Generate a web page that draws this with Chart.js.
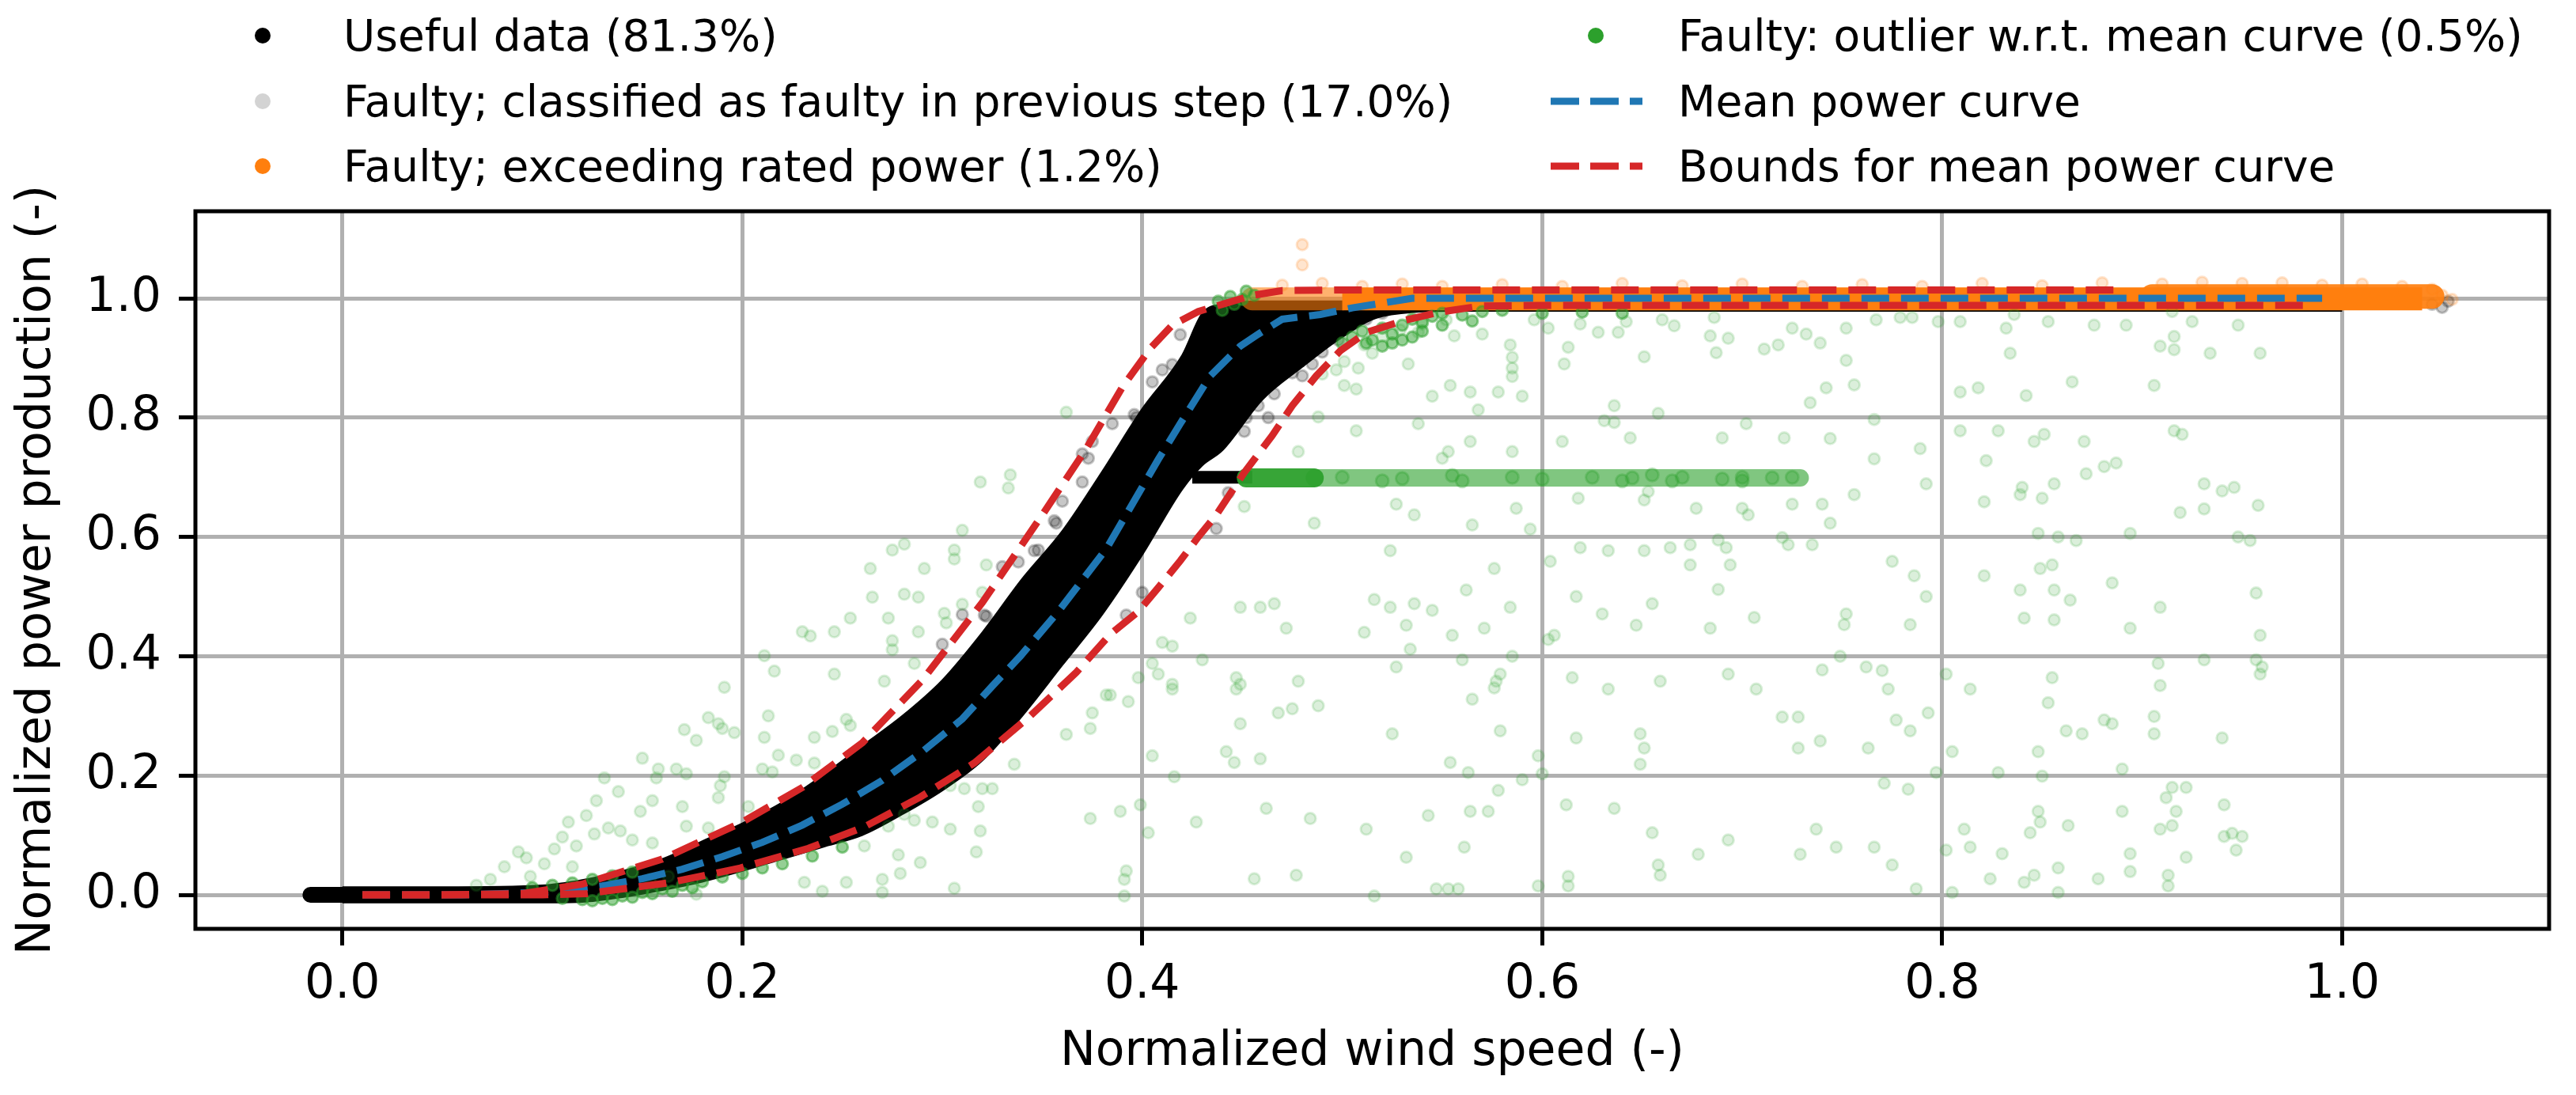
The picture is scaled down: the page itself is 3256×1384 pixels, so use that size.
<!DOCTYPE html>
<html>
<head>
<meta charset="utf-8">
<title>Power curve filtering</title>
<script src="https://cdn.jsdelivr.net/npm/chart.js@4.4.1/dist/chart.umd.min.js"></script>
<style>
  body { margin: 0; background: #fff; }
  #wrap { position: relative; width: 3256px; height: 1384px; font-family: 'DejaVu Sans', sans-serif; }
  #chart { position: absolute; left: 0; top: 0; }
  .lg-text { position: absolute; height: 82px; line-height: 82px; font-size: 55px; white-space: nowrap; color: #000; }
  .lg-dot { position: absolute; width: 20px; height: 20px; border-radius: 50%; }
  .lg-line { position: absolute; }
</style>
</head>
<body>
<div id="wrap">
  <canvas id="chart" width="3256" height="1384"></canvas>
  <div id="legend"></div>
</div>
<script>
// ---------------------
// Data
// ---------------------
const xTicks = [0.0, 0.2, 0.4, 0.6, 0.8, 1.0];
const yTicks = [0.0, 0.2, 0.4, 0.6, 0.8, 1.0];
const xTickLabels = ['0.0', '0.2', '0.4', '0.6', '0.8', '1.0'];
const yTickLabels = ['0.0', '0.2', '0.4', '0.6', '0.8', '1.0'];
const xLimits = [-0.0735, 1.1035];
const yLimits = [-0.057, 1.146];

// dense cloud of useful data, outlined by its upper and lower edge
const bandX      = [0.0, 0.05, 0.10, 0.12, 0.14, 0.16, 0.18, 0.20, 0.22, 0.24, 0.26, 0.28, 0.30, 0.32, 0.34, 0.36, 0.38, 0.40, 0.42, 0.43, 0.44, 0.46, 0.48, 0.50, 0.52, 0.56, 0.60, 0.80, 1.0];
const bandTop    = [0.013, 0.013, 0.016, 0.025, 0.04, 0.06, 0.09, 0.12, 0.155, 0.20, 0.25, 0.30, 0.36, 0.44, 0.53, 0.61, 0.71, 0.815, 0.905, 0.975, 0.99, 0.995, 0.995, 0.995, 0.995, 0.995, 0.995, 0.995, 0.995];
const bandBottom = [-0.013, -0.013, -0.013, -0.012, -0.004, 0.008, 0.022, 0.04, 0.06, 0.08, 0.10, 0.135, 0.175, 0.225, 0.30, 0.385, 0.47, 0.57, 0.68, 0.72, 0.745, 0.83, 0.885, 0.935, 0.97, 0.979, 0.979, 0.979, 0.979];
// idle turbine: zero power at the lowest wind speeds
const idleX = [-0.016, 0.10];
const idleY = [0.0, 0.0];
const usefulSpurX = [0.425, 0.455];
const usefulSpurY = [0.700, 0.700];
const usefulEdge = [
  [0.370,0.739],[0.370,0.692],[0.356,0.627],[0.346,0.577],[0.396,0.805],[0.415,0.889],[0.419,0.939],
  [0.463,0.800],[0.451,0.777],[0.443,0.674],[0.437,0.614],[0.400,0.507],[0.392,0.469],[0.321,0.469],
  [0.373,0.732],[0.357,0.623],[0.348,0.578],[0.338,0.558],[0.322,0.467],[0.397,0.800],[0.470,0.880],
  [0.452,0.800],[0.458,0.820],[0.466,0.840],[0.475,0.875],[0.480,0.870],[0.485,0.890],[0.490,0.910],
  [0.498,0.930],[0.505,0.955],[0.512,0.965],[0.520,0.975],[0.360,0.660],[0.375,0.760],[0.385,0.790],
  [0.405,0.860],[0.410,0.880],[0.330,0.550],[0.310,0.470],[0.300,0.420],
  [1.045,0.990],[1.050,0.985],[1.053,0.995]
];

// classified as faulty in the previous step (hidden below the other layers)
const prevFaulty = [[0.0,0.0],[0.05,0.0],[0.2,0.08],[0.3,0.27],[0.4,0.7],[0.6,1.0],[0.8,1.0],[0.95,1.0]];

// exceeding rated power
const ratedXa = [0.455, 0.50];
const ratedYa = [0.999, 0.999];
const ratedXb = [0.50, 1.040];
const ratedYb = [0.999, 0.999];
const ratedX2 = [0.905, 1.045];
const ratedY2 = [1.003, 1.003];
const ratedPts = [
  [0.480,1.090],[0.480,1.056],[0.470,1.022],[0.490,1.025],[0.510,1.020],[0.530,1.024],[0.550,1.020],
  [0.580,1.023],[0.610,1.020],[0.640,1.025],[0.670,1.021],[0.700,1.024],[0.730,1.020],[0.760,1.023],
  [0.790,1.020],[0.820,1.025],[0.850,1.021],[0.880,1.026],[0.910,1.024],[0.930,1.027],[0.950,1.025],
  [0.970,1.026],[0.990,1.022],[1.010,1.024],[1.030,1.020],[1.045,1.015],[1.050,1.005],[1.055,0.998]
];

// outliers w.r.t. the mean curve
const outlierPts = [
  // low wind speeds
  [0.319,0.692],[0.334,0.704],[0.333,0.682],[0.310,0.611],[0.306,0.578],[0.306,0.563],[0.322,0.553],
  [0.275,0.578],[0.281,0.588],[0.264,0.547],[0.291,0.547],[0.265,0.499],[0.281,0.504],[0.288,0.499],
  [0.310,0.487],[0.301,0.472],[0.302,0.456],[0.320,0.507],[0.273,0.464],[0.254,0.464],[0.246,0.441],
  [0.230,0.441],[0.234,0.434],[0.288,0.441],[0.275,0.426],[0.275,0.411],[0.286,0.388],[0.211,0.401],
  [0.216,0.375],[0.246,0.370],[0.271,0.358],[0.191,0.348],[0.213,0.300],[0.183,0.297],[0.188,0.287],
  [0.190,0.279],[0.196,0.272],[0.171,0.277],[0.177,0.259],[0.211,0.264],[0.236,0.264],[0.252,0.294],
  [0.245,0.274],[0.254,0.284],[0.375,0.305],[0.374,0.279],[0.362,0.269],[0.382,0.335],[0.336,0.219],
  [0.374,0.128],[0.150,0.229],[0.158,0.211],[0.167,0.211],[0.172,0.203],[0.157,0.196],[0.191,0.198],
  [0.189,0.183],[0.210,0.211],[0.215,0.206],[0.218,0.234],[0.227,0.226],[0.236,0.221],[0.131,0.196],
  [0.138,0.173],[0.127,0.158],[0.155,0.158],[0.149,0.140],[0.170,0.148],[0.188,0.163],[0.203,0.148],
  [0.172,0.115],[0.183,0.112],[0.304,0.183],[0.311,0.178],[0.320,0.178],[0.325,0.178],[0.318,0.148],
  [0.281,0.135],[0.273,0.115],[0.286,0.125],[0.295,0.122],[0.304,0.110],[0.319,0.107],[0.317,0.072],
  [0.261,0.082],[0.278,0.067],[0.289,0.054],[0.279,0.036],[0.270,0.026],[0.231,0.021],[0.240,0.006],
  [0.252,0.021],[0.306,0.011],[0.270,0.004],[0.113,0.122],[0.122,0.133],[0.126,0.102],[0.110,0.097],
  [0.106,0.077],[0.117,0.082],[0.133,0.112],[0.139,0.107],[0.145,0.092],[0.155,0.087],[0.088,0.072],
  [0.081,0.047],[0.092,0.062],[0.101,0.052],[0.074,0.026],[0.067,0.016],[0.094,0.031],[0.115,0.047],
  [0.154,0.026],[0.163,0.031],[0.177,0.001],[0.362,0.809],
  // middle wind speeds
  [0.584,0.922],[0.585,0.901],[0.585,0.883],[0.585,0.869],[0.533,0.890],[0.611,0.890],[0.613,0.918],
  [0.651,0.902],[0.687,0.909],[0.711,0.915],[0.718,0.922],[0.725,0.950],[0.732,0.940],[0.693,0.933],
  [0.684,0.937],[0.739,0.925],[0.545,0.836],[0.554,0.854],[0.564,0.843],[0.578,0.843],[0.590,0.836],
  [0.568,0.813],[0.501,0.854],[0.507,0.848],[0.508,0.883],[0.734,0.825],[0.636,0.820],[0.631,0.795],
  [0.636,0.792],[0.658,0.807],[0.702,0.790],[0.488,0.801],[0.507,0.778],[0.538,0.790],[0.644,0.766],
  [0.690,0.766],[0.721,0.766],[0.610,0.760],[0.564,0.760],[0.585,0.743],[0.478,0.743],[0.553,0.743],
  [0.550,0.732],[0.603,0.950],[0.619,0.957],[0.628,0.943],[0.638,0.943],[0.642,0.961],[0.660,0.964],
  [0.666,0.954],[0.686,0.968],[0.596,0.964],[0.570,0.940],[0.556,0.937],[0.538,0.943],[0.511,0.922],
  [0.520,0.936],[0.529,0.947],[0.540,0.957],[0.552,0.964],[0.515,0.908],[0.501,0.894],[0.497,0.880],
  [0.490,0.873],[0.451,0.651],[0.486,0.623],[0.527,0.655],[0.536,0.637],[0.565,0.620],[0.587,0.648],
  [0.594,0.613],[0.618,0.665],[0.651,0.662],[0.653,0.676],[0.677,0.648],[0.700,0.648],[0.703,0.637],
  [0.725,0.655],[0.740,0.655],[0.524,0.577],[0.576,0.547],[0.604,0.559],[0.619,0.582],[0.633,0.577],
  [0.651,0.577],[0.664,0.582],[0.674,0.587],[0.674,0.553],[0.688,0.595],[0.692,0.582],[0.694,0.553],
  [0.720,0.599],[0.723,0.587],[0.735,0.587],[0.562,0.511],[0.617,0.500],[0.688,0.512],[0.655,0.488],
  [0.706,0.465],[0.630,0.471],[0.647,0.452],[0.684,0.447],[0.584,0.482],[0.545,0.477],[0.536,0.488],
  [0.524,0.482],[0.516,0.495],[0.532,0.452],[0.511,0.440],[0.555,0.435],[0.571,0.447],[0.472,0.447],
  [0.449,0.482],[0.459,0.482],[0.466,0.488],[0.424,0.464],[0.410,0.423],[0.415,0.417],[0.430,0.394],
  [0.405,0.388],[0.408,0.370],[0.398,0.364],[0.415,0.353],[0.415,0.345],[0.384,0.335],[0.393,0.324],
  [0.534,0.412],[0.527,0.382],[0.560,0.394],[0.585,0.400],[0.579,0.370],[0.577,0.358],[0.576,0.347],
  [0.603,0.428],[0.606,0.435],[0.615,0.364],[0.633,0.345],[0.659,0.358],[0.693,0.370],[0.707,0.345],
  [0.740,0.377],[0.447,0.364],[0.449,0.353],[0.447,0.345],[0.478,0.358],[0.488,0.317],[0.475,0.312],
  [0.468,0.305],[0.565,0.328],[0.449,0.287],[0.525,0.270],[0.579,0.275],[0.617,0.263],[0.649,0.270],
  [0.651,0.246],[0.649,0.219],[0.720,0.298],[0.728,0.298],[0.728,0.246],[0.739,0.258],[0.598,0.233],
  [0.554,0.222],[0.563,0.205],[0.600,0.203],[0.590,0.193],[0.578,0.175],[0.405,0.233],[0.442,0.240],
  [0.446,0.222],[0.459,0.228],[0.416,0.198],[0.389,0.140],[0.399,0.151],[0.403,0.104],[0.427,0.122],
  [0.462,0.145],[0.484,0.128],[0.512,0.110],[0.543,0.133],[0.564,0.140],[0.573,0.140],[0.612,0.151],
  [0.636,0.145],[0.655,0.104],[0.693,0.092],[0.678,0.068],[0.729,0.068],[0.737,0.110],[0.561,0.080],
  [0.532,0.063],[0.392,0.040],[0.391,0.026],[0.391,-0.002],[0.456,0.027],[0.477,0.033],[0.516,-0.002],
  [0.547,0.010],[0.553,0.010],[0.558,0.010],[0.598,0.015],[0.613,0.031],[0.613,0.015],[0.658,0.050],
  [0.659,0.033],
  // high wind speeds
  [0.767,0.964],[0.779,0.968],[0.785,0.968],[0.798,0.961],[0.809,0.961],[0.832,0.950],[0.836,0.973],
  [0.853,0.961],[0.876,0.955],[0.892,0.955],[0.915,0.978],[0.925,0.961],[0.948,0.955],[0.752,0.950],
  [0.752,0.896],[0.834,0.908],[0.909,0.920],[0.916,0.936],[0.916,0.914],[0.934,0.908],[0.959,0.908],
  [0.742,0.850],[0.756,0.855],[0.809,0.843],[0.818,0.850],[0.842,0.837],[0.865,0.860],[0.906,0.854],
  [0.766,0.797],[0.744,0.765],[0.789,0.748],[0.766,0.731],[0.809,0.778],[0.828,0.778],[0.846,0.760],
  [0.851,0.772],[0.871,0.760],[0.822,0.728],[0.887,0.724],[0.881,0.718],[0.916,0.778],[0.920,0.772],
  [0.792,0.689],[0.756,0.671],[0.744,0.623],[0.821,0.659],[0.840,0.683],[0.839,0.671],[0.850,0.665],
  [0.856,0.689],[0.872,0.706],[0.931,0.689],[0.940,0.677],[0.946,0.683],[0.958,0.653],[0.919,0.641],
  [0.931,0.647],[0.848,0.606],[0.858,0.600],[0.867,0.594],[0.894,0.606],[0.948,0.600],[0.954,0.594],
  [0.775,0.559],[0.786,0.535],[0.792,0.500],[0.752,0.471],[0.751,0.453],[0.784,0.453],[0.821,0.535],
  [0.849,0.547],[0.855,0.553],[0.839,0.511],[0.856,0.511],[0.864,0.494],[0.885,0.523],[0.841,0.464],
  [0.856,0.461],[0.894,0.447],[0.909,0.482],[0.957,0.506],[0.959,0.435],[0.749,0.400],[0.762,0.382],
  [0.770,0.376],[0.773,0.345],[0.802,0.370],[0.814,0.345],[0.855,0.364],[0.908,0.388],[0.909,0.351],
  [0.931,0.394],[0.957,0.394],[0.960,0.382],[0.959,0.370],[0.853,0.322],[0.777,0.293],[0.784,0.275],
  [0.793,0.305],[0.763,0.246],[0.805,0.240],[0.848,0.240],[0.862,0.275],[0.870,0.270],[0.881,0.293],
  [0.885,0.287],[0.906,0.299],[0.906,0.270],[0.940,0.263],[0.797,0.205],[0.828,0.205],[0.850,0.199],
  [0.890,0.211],[0.771,0.187],[0.783,0.177],[0.915,0.180],[0.922,0.180],[0.912,0.163],[0.848,0.140],
  [0.849,0.122],[0.844,0.104],[0.811,0.110],[0.863,0.116],[0.890,0.140],[0.917,0.140],[0.915,0.116],
  [0.909,0.110],[0.941,0.151],[0.945,0.103],[0.950,0.098],[0.947,0.075],[0.941,0.098],[0.747,0.080],
  [0.766,0.080],[0.802,0.075],[0.814,0.080],[0.830,0.069],[0.894,0.069],[0.922,0.063],[0.775,0.050],
  [0.824,0.027],[0.841,0.021],[0.846,0.033],[0.858,0.045],[0.878,0.027],[0.894,0.039],[0.913,0.033],
  [0.913,0.015],[0.787,0.010],[0.805,0.004],[0.858,0.004]
];
// outliers packed so closely that they read as solid green
const outlierDense = [
  [0.095,0.012],[0.105,0.016],[0.115,0.020],[0.125,0.026],[0.135,0.032],[0.145,0.038],[0.110,-0.006],
  [0.120,-0.008],[0.130,-0.006],[0.140,-0.002],[0.150,0.004],[0.160,0.010],[0.170,0.016],[0.180,0.022],
  [0.190,0.030],[0.200,0.036],[0.210,0.045],[0.125,-0.010],[0.135,-0.008],[0.145,-0.004],[0.155,0.002],
  [0.165,0.006],[0.175,0.012],[0.220,0.052],[0.235,0.065],[0.250,0.080],
  [0.438,0.995],[0.444,1.003],[0.450,0.998],[0.456,1.005],[0.446,0.990],[0.440,0.980],[0.452,1.012],
  [0.500,0.925],[0.505,0.935],[0.510,0.945],[0.515,0.930],[0.520,0.950],[0.525,0.940],[0.530,0.955],
  [0.535,0.965],[0.540,0.960],[0.545,0.970],[0.550,0.975],[0.560,0.972],[0.570,0.978],[0.580,0.980],
  [0.520,0.920],[0.530,0.930],[0.540,0.945],[0.550,0.955],[0.565,0.962],[0.600,0.975],[0.620,0.977],
  [0.640,0.975],[0.512,0.925],[0.525,0.925],[0.535,0.935]
];
// outliers stuck at a constant power level
const stuckX1 = [0.452, 0.486];
const stuckY1 = [0.699, 0.699];
const stuckX2 = [0.486, 0.729];
const stuckY2 = [0.699, 0.699];
const stuckPts = [
  [0.500,0.700],[0.530,0.698],[0.555,0.703],[0.585,0.700],[0.600,0.697],[0.625,0.700],[0.645,0.699],
  [0.655,0.704],[0.670,0.700],[0.690,0.697],[0.700,0.700],[0.715,0.699],[0.725,0.700],[0.520,0.694],
  [0.560,0.694],[0.640,0.694],[0.665,0.694],[0.700,0.694]
];

// mean power curve and its bounds
const meanX  = [0.010, 0.06, 0.10, 0.13, 0.15, 0.17, 0.19, 0.21, 0.23, 0.25, 0.27, 0.29, 0.31, 0.325, 0.339, 0.358, 0.382, 0.395, 0.408, 0.419, 0.434, 0.449, 0.458, 0.470, 0.489, 0.505, 0.535, 0.99];
const meanY  = [0.0, 0.0, 0.004, 0.015, 0.027, 0.043, 0.064, 0.088, 0.117, 0.152, 0.192, 0.24, 0.295, 0.35, 0.40, 0.475, 0.58, 0.655, 0.73, 0.79, 0.87, 0.92, 0.94, 0.965, 0.973, 0.984, 1.0, 1.0];
const upperX = [0.010, 0.05, 0.09, 0.12, 0.16, 0.20, 0.23, 0.26, 0.29, 0.32, 0.35, 0.372, 0.39, 0.404, 0.415, 0.428, 0.440, 0.455, 0.470, 0.50, 0.889];
const upperY = [0.0, 0.0, 0.002, 0.018, 0.06, 0.122, 0.18, 0.255, 0.36, 0.49, 0.637, 0.748, 0.851, 0.916, 0.955, 0.978, 0.990, 1.005, 1.013, 1.014, 1.014];
const lowerX = [0.010, 0.10, 0.122, 0.163, 0.199, 0.233, 0.261, 0.289, 0.316, 0.344, 0.367, 0.384, 0.398, 0.408, 0.419, 0.428, 0.437, 0.451, 0.465, 0.475, 0.487, 0.499, 0.512, 0.531, 0.549, 0.569, 0.60, 0.986];
const lowerY = [0.0, 0.0, 0.002, 0.02, 0.045, 0.078, 0.114, 0.164, 0.221, 0.30, 0.373, 0.437, 0.475, 0.515, 0.56, 0.60, 0.637, 0.708, 0.77, 0.82, 0.87, 0.912, 0.943, 0.963, 0.977, 0.987, 0.988, 0.988];

const legendItems = [
  { text: 'Useful data (81.3%)', kind: 'dot', color: '#000000', col: 0, row: 0 },
  { text: 'Faulty; classified as faulty in previous step (17.0%)', kind: 'dot', color: '#d3d3d3', col: 0, row: 1 },
  { text: 'Faulty; exceeding rated power (1.2%)', kind: 'dot', color: '#ff7f0e', col: 0, row: 2 },
  { text: 'Faulty: outlier w.r.t. mean curve (0.5%)', kind: 'dot', color: '#2ca02c', col: 1, row: 0 },
  { text: 'Mean power curve', kind: 'dash', color: '#1f77b4', col: 1, row: 1 },
  { text: 'Bounds for mean power curve', kind: 'dash', color: '#d62728', col: 1, row: 2 }
];

// =====================
// Helpers
// =====================
const FONT = "'DejaVu Sans', sans-serif";
const toXY = (xs, ys) => xs.map((x, i) => ({ x: x, y: ys[i] }));
const fromPairs = list => list.map(p => ({ x: p[0], y: p[1] }));

function pointSet(label, data, fill, stroke, radius, border, order) {
  return {
    label, data, order,
    showLine: false,
    pointRadius: radius,
    pointBorderWidth: border,
    pointBackgroundColor: fill,
    pointBorderColor: stroke,
    backgroundColor: fill,
    borderColor: stroke
  };
}

function lineSet(label, data, color, width, dash, order, extra) {
  return Object.assign({
    label, data, order,
    showLine: true,
    borderColor: color,
    backgroundColor: color,
    borderWidth: width,
    borderDash: dash,
    borderCapStyle: 'butt',
    pointRadius: 0,
    tension: 0,
    fill: false
  }, extra || {});
}

// =====================
// Legend (two columns above the axes)
// =====================
function buildLegend() {
  const rowCenter = [45, 128, 210];
  const dotCenterX = [332, 2017];
  const lineStartX = [1960, 1960];
  const textX = [434, 2121];
  const box = document.getElementById('legend');
  legendItems.forEach(item => {
    const cy = rowCenter[item.row];
    if (item.kind === 'dot') {
      const d = document.createElement('div');
      d.className = 'lg-dot';
      d.style.background = item.color;
      d.style.left = (dotCenterX[item.col] - 10) + 'px';
      d.style.top = (cy - 10) + 'px';
      box.appendChild(d);
    } else {
      const svgNS = 'http://www.w3.org/2000/svg';
      const svg = document.createElementNS(svgNS, 'svg');
      svg.setAttribute('class', 'lg-line');
      svg.setAttribute('width', '116');
      svg.setAttribute('height', '12');
      svg.style.left = lineStartX[item.col] + 'px';
      svg.style.top = (cy - 6) + 'px';
      const ln = document.createElementNS(svgNS, 'line');
      ln.setAttribute('x1', '0'); ln.setAttribute('y1', '6');
      ln.setAttribute('x2', '116'); ln.setAttribute('y2', '6');
      ln.setAttribute('stroke', item.color);
      ln.setAttribute('stroke-width', '9');
      ln.setAttribute('stroke-dasharray', '36 14');
      svg.appendChild(ln);
      box.appendChild(svg);
    }
    const t = document.createElement('div');
    t.className = 'lg-text';
    t.textContent = item.text;
    t.style.left = textX[item.col] + 'px';
    t.style.top = (cy - 41) + 'px';
    box.appendChild(t);
  });
}

// black frame round the axes, drawn over the data like matplotlib spines
const framePlugin = {
  id: 'frame',
  afterDatasetsDraw(chart) {
    const { ctx, chartArea: a } = chart;
    ctx.save();
    ctx.strokeStyle = '#000';
    ctx.lineWidth = 5;
    ctx.strokeRect(a.left, a.top, a.right - a.left, a.bottom - a.top);
    ctx.restore();
  }
};

// =====================
// Chart
// =====================
function initChart() {
  const GREEN_LIGHT = 'rgba(44,160,44,0.17)';
  const GREEN_DENSE = 'rgba(44,160,44,0.5)';

  const datasets = [
    // 0,1: useful data band (filled between edges)
    lineSet('Useful data (81.3%)', toXY(bandX, bandTop), '#000', 2, [], 9,
      { fill: '+1', backgroundColor: '#000', cubicInterpolationMode: 'monotone' }),
    lineSet('useful lower edge', toXY(bandX, bandBottom), '#000', 2, [], 9,
      { cubicInterpolationMode: 'monotone' }),
    lineSet('useful idle', toXY(idleX, idleY), '#000', 20, [], 9, { borderCapStyle: 'round' }),
    lineSet('useful spur', toXY(usefulSpurX, usefulSpurY), '#000', 16, [], 9),
    pointSet('useful sparse', fromPairs(usefulEdge), 'rgba(0,0,0,0.22)', 'rgba(0,0,0,0.22)', 7, 3, 9),
    // previous step
    pointSet('Faulty; classified as faulty in previous step (17.0%)', fromPairs(prevFaulty), 'rgba(211,211,211,0.3)', 'rgba(211,211,211,0.3)', 7, 3, 10),
    // exceeding rated power (solid part listed first so it sits above the translucent start)
    lineSet('Faulty; exceeding rated power (1.2%)', toXY(ratedXb, ratedYb), '#ff7f0e', 29, [], 7),
    lineSet('rated over useful', toXY(ratedXa, ratedYa), 'rgba(255,127,14,0.6)', 29, [], 7, { borderCapStyle: 'round' }),
    lineSet('rated right end', toXY(ratedX2, ratedY2), 'rgba(255,127,14,0.92)', 31, [], 7, { borderCapStyle: 'round' }),
    pointSet('rated sparse', fromPairs(ratedPts), 'rgba(255,127,14,0.2)', 'rgba(255,127,14,0.2)', 7, 3, 7),
    // outliers
    pointSet('Faulty: outlier w.r.t. mean curve (0.5%)', fromPairs(outlierPts), GREEN_LIGHT, GREEN_LIGHT, 7, 3, 6),
    pointSet('outlier dense', fromPairs(outlierDense), GREEN_DENSE, GREEN_DENSE, 7, 3, 6),
    lineSet('stuck dense', toXY(stuckX1, stuckY1), 'rgba(44,160,44,0.95)', 24, [], 6, { borderCapStyle: 'round' }),
    lineSet('stuck', toXY(stuckX2, stuckY2), 'rgba(44,160,44,0.6)', 22, [], 6, { borderCapStyle: 'round' }),
    pointSet('stuck points', fromPairs(stuckPts), 'rgba(44,160,44,0.3)', 'rgba(44,160,44,0.3)', 8, 3, 6),
    // curves
    lineSet('Mean power curve', toXY(meanX, meanY), '#1f77b4', 9, [35, 15], 2),
    lineSet('Bounds for mean power curve', toXY(upperX, upperY), '#d62728', 9, [35, 15], 1),
    lineSet('lower bound', toXY(lowerX, lowerY), '#d62728', 9, [35, 15], 1)
  ];

  const tickFont = { family: FONT, size: 60 };
  const gridOpts = {
    color: '#b0b0b0',
    lineWidth: 5,
    drawTicks: true,
    tickLength: 21,
    tickWidth: 5,
    tickColor: '#000'
  };

  new Chart(document.getElementById('chart'), {
    type: 'line',
    data: { datasets },
    options: {
      responsive: false,
      animation: false,
      devicePixelRatio: 1,
      events: [],
      layout: { padding: { top: 267, right: 34, bottom: 0, left: 0 } },
      plugins: {
        legend: { display: false },
        tooltip: { enabled: false }
      },
      scales: {
        x: {
          type: 'linear',
          min: xLimits[0],
          max: xLimits[1],
          afterBuildTicks: s => { s.ticks = xTicks.map(v => ({ value: v })); },
          afterFit: s => { s.height = 210; },
          ticks: {
            callback: (v, i) => xTickLabels[i],
            font: tickFont, color: '#000', padding: 14,
            maxRotation: 0, autoSkip: false
          },
          grid: gridOpts,
          border: { display: false },
          title: {
            display: true, text: 'Normalized wind speed (-)',
            font: tickFont, color: '#000',
            padding: { top: 0, bottom: 18 }
          }
        },
        y: {
          type: 'linear',
          min: yLimits[0],
          max: yLimits[1],
          afterBuildTicks: s => { s.ticks = yTicks.map(v => ({ value: v })); },
          afterFit: s => { s.width = 247; },
          ticks: {
            callback: (v, i) => yTickLabels[i],
            font: tickFont, color: '#000', padding: 22,
            autoSkip: false
          },
          grid: gridOpts,
          border: { display: false },
          title: {
            display: true, text: 'Normalized power production (-)',
            font: tickFont, color: '#000',
            padding: { top: 11, bottom: 0 }
          }
        }
      }
    },
    plugins: [framePlugin]
  });
}

buildLegend();
initChart();
</script>
</body>
</html>
